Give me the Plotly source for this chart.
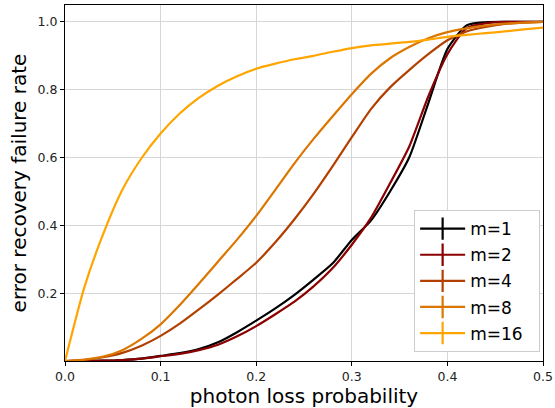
import plotly.graph_objects as go

p_loss = [0.00, 0.02, 0.04, 0.06, 0.08, 0.10, 0.12, 0.14, 0.16, 0.18, 0.20, 0.22, 0.24,
          0.26, 0.28, 0.30, 0.32, 0.34, 0.36, 0.38, 0.40, 0.42, 0.44, 0.46, 0.48, 0.50]

m1 = [0, 0.0005, 0.001, 0.003, 0.007, 0.015, 0.023, 0.035, 0.055, 0.085, 0.119, 0.155, 0.195,
      0.24, 0.288, 0.357, 0.414, 0.50, 0.60, 0.76, 0.92, 0.99, 0.999, 1.0, 1.0, 1.0]
m2 = [0, 0.0003, 0.001, 0.003, 0.007, 0.014, 0.021, 0.032, 0.048, 0.073, 0.103, 0.138, 0.175,
      0.22, 0.274, 0.343, 0.422, 0.524, 0.632, 0.78, 0.905, 0.982, 0.996, 1.0, 1.0, 1.0]
m4 = [0, 0.003, 0.011, 0.024, 0.045, 0.074, 0.11, 0.152, 0.196, 0.242, 0.29, 0.35, 0.418,
      0.493, 0.575, 0.66, 0.743, 0.807, 0.858, 0.905, 0.946, 0.972, 0.985, 0.994, 0.998, 1.0]
m8 = [0, 0.004, 0.013, 0.032, 0.065, 0.108, 0.165, 0.228, 0.293, 0.358, 0.428, 0.505, 0.583,
      0.655, 0.722, 0.787, 0.847, 0.893, 0.926, 0.952, 0.97, 0.981, 0.989, 0.995, 0.998, 1.0]
m16 = [0, 0.215, 0.375, 0.505, 0.598, 0.671, 0.73, 0.776, 0.812, 0.84, 0.862, 0.877, 0.89,
       0.9, 0.912, 0.923, 0.931, 0.936, 0.941, 0.948, 0.956, 0.962, 0.967, 0.972, 0.978, 0.983]

labels = ["m=1", "m=2", "m=4", "m=8", "m=16"]
series = [m1, m2, m4, m8, m16]
colors = ["#000000", "#8b0000", "#b24000", "#db7600", "#ffa500"]

x_ticks = [0.0, 0.1, 0.2, 0.3, 0.4, 0.5]
y_ticks = [0.2, 0.4, 0.6, 0.8, 1.0]

fig = go.Figure()
for lab, ys, c in zip(labels, series, colors):
    fig.add_trace(go.Scatter(x=p_loss, y=ys, mode="lines",
                             line=dict(color=c, width=2.2, shape="spline", smoothing=0.6),
                             showlegend=False, name=lab))
for lab, c in zip(labels, colors):
    fig.add_trace(go.Scatter(x=[None], y=[None], mode="lines+markers",
                             name=lab + "\u00a0\u00a0",
                             legendgroup=lab,
                             line=dict(color=c, width=2.2),
                             marker=dict(symbol="line-ns-open", size=17,
                                         line=dict(color=c, width=2.2))))

axis_common = dict(showline=True, linecolor="black", linewidth=1, mirror=True,
                   ticks="outside", ticklen=4, tickcolor="black", automargin=False,
                   showgrid=True, gridcolor="#d6d6d6", gridwidth=1, zeroline=False,
                   tickfont=dict(family="DejaVu Sans", size=12.5, color="#222"))

fig.update_xaxes(range=[0, 0.5], tickvals=x_ticks, ticktext=[f"{v:.1f}" for v in x_ticks],
                 title=dict(text="photon loss probability",
                            font=dict(family="DejaVu Sans", size=20, color="black"), standoff=4),
                 **axis_common)
fig.update_yaxes(range=[0, 1.05], tickvals=y_ticks, ticktext=[f"{v:.1f}" for v in y_ticks],
                 title=dict(text="error recovery failure rate",
                            font=dict(family="DejaVu Sans", size=20, color="black"), standoff=5),
                 **axis_common)

fig.update_layout(
    width=555, height=408,
    margin=dict(l=65, r=12, t=5, b=47),
    paper_bgcolor="white", plot_bgcolor="white",
    font=dict(family="DejaVu Sans", color="black"),
    legend=dict(x=0.994, y=0.025, xanchor="right", yanchor="bottom",
                bgcolor="white", bordercolor="#cccccc", borderwidth=1,
                font=dict(family="DejaVu Sans", size=17, color="black"),
                itemwidth=45, tracegroupgap=1),
)

fig.write_html("out.html", config={"displayModeBar": False},
               post_script="document.body.style.margin='0';document.body.style.padding='0';")
